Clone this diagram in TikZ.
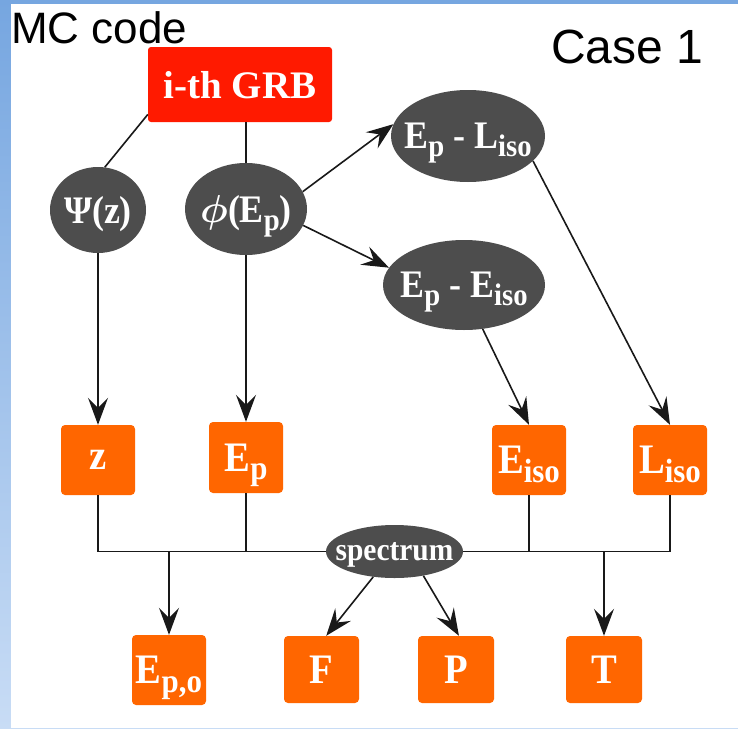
\documentclass[tikz,border=0pt]{standalone}
\usepackage{fontspec}
\usepackage{graphicx}
\setmainfont{Liberation Serif}
\newfontfamily\arialf{Liberation Sans}
\newfontfamily\condserif[FakeStretch=0.92]{Liberation Serif}
\newcommand\sbx[1]{\raisebox{-0.2em}{\scalebox{0.8}{#1}}}
\newcommand\bphi{\scalebox{3.9}{\fontsize{10}{12}\selectfont\boldmath$\phi$}}
\usetikzlibrary{shapes.geometric,arrows.meta,calc}
\definecolor{orng}{HTML}{FF6600}
\definecolor{grbred}{HTML}{FF1A00}
\definecolor{ellgray}{HTML}{4D4D4D}
\definecolor{bluetop}{RGB}{118,166,224}
\definecolor{bluebot}{RGB}{200,220,245}
\begin{document}
\begin{tikzpicture}[x=1pt,y=-1pt,
  obox/.style={rectangle, rounded corners=4pt, fill=orng, text=white,
    font=\condserif\fontsize{42}{46}\selectfont\bfseries, inner sep=0pt, text depth=0pt},
  ell/.style={ellipse, fill=ellgray, inner sep=0pt},
  etxt/.style={text=white, font=\condserif\fontsize{39}{42}\selectfont\bfseries, inner sep=0pt, text depth=0pt},
  conn/.style={line width=1.6pt, draw=black!90},
  arr/.style={conn, -{Stealth[length=27pt,width=20pt,inset=10pt]}},
  sans/.style={inner sep=0pt, anchor=base west, text=black},
]
\useasboundingbox (0,0) rectangle (738,728);
\shade[top color=bluetop, bottom color=bluebot] (0,0) rectangle (738,728);
\fill[white] (11,4) rectangle (738,728);

\node[sans, font=\arialf\fontsize{44}{47}\selectfont] (mc) at (11,43) {MC code};
\node[sans, font=\arialf\fontsize{48}{52}\selectfont] (case) at (551,63) {Case 1};

% top
\node[rectangle, rounded corners=3pt, fill=grbred, text=white, inner sep=0pt,
  minimum width=184pt, minimum height=75pt, text depth=0pt,
  font=\fontsize{39}{42}\selectfont\bfseries] (grb) at (240,84.5) {i-th GRB};

% ellipses
\node[ell, minimum width=96pt, minimum height=86pt] (psi) at (98,210) {};
\node[etxt] (psit) at (psi) {Ψ(z)};
\node[ell, minimum width=122pt, minimum height=92pt] (phi) at (246,209) {};
\node[etxt] (phit) at (phi) {\bphi(E\sbx{p})};
\node[ell, minimum width=154pt, minimum height=92pt] (elL) at (468,136) {};
\node[etxt] (elLt) at (elL) {E\sbx{p} - L\sbx{iso}};
\node[ell, minimum width=162pt, minimum height=90pt] (elE) at (464,285) {};
\node[etxt] (elEt) at (elE) {E\sbx{p} - E\sbx{iso}};
\node[ell, minimum width=137pt, minimum height=53pt] (spec) at (394.5,551.5) {};
\node[etxt, font=\condserif\fontsize{32}{34}\selectfont\bfseries] (spect) at (spec) {spectrum};

% boxes row 1
\node[obox, minimum width=74pt, minimum height=70pt] (z) at (98,460) {z};
\node[obox, minimum width=74pt, minimum height=71pt] (Ep) at (246,457.5) {E\sbx{p}};
\node[obox, minimum width=74pt, minimum height=70pt] (Eiso) at (529,460) {E\sbx{iso}};
\node[obox, minimum width=74pt, minimum height=70pt] (Liso) at (670,460) {L\sbx{iso}};

% boxes row 2
\node[obox, minimum width=74pt, minimum height=70pt] (Epo) at (169,670) {E\sbx{p,o}};
\node[obox, minimum width=75pt, minimum height=67pt] (F) at (321.5,669.5) {F};
\node[obox, minimum width=76pt, minimum height=67pt] (P) at (456,669.5) {P};
\node[obox, minimum width=76pt, minimum height=67pt] (T) at (604,669.5) {T};

% connectors
\draw[conn] (grb.198) -- (psi.81);
\draw[conn] (grb.south -| phi) -- (phi.north);
\draw[arr] (psi.south) -- (z.north);
\draw[arr] (phi.south) -- (Ep.north);
\draw[arr] (phi.17) -- (elL.171);
\draw[arr] (phi.-16) -- (elE.167);
\draw[arr] (elE.-67) -- (Eiso.north);
\draw[arr] (elL.-21) -- (Liso.north);

\draw[conn] (z.south) |- (spec.west);
\draw[conn] (Liso.south) |- (spec.east);
\draw[conn] (Ep.south) -- (Ep.south |- spec.center);
\draw[conn] (Eiso.south) -- (Eiso.south |- spec.center);
\draw[arr] (Epo.north |- spec.center) -- (Epo.north);
\draw[arr] (T.north |- spec.center) -- (T.north);
\draw[arr] (spec.-130) -- (F.82);
\draw[arr] (spec.-40) -- (P.85);
\end{tikzpicture}
\end{document}
